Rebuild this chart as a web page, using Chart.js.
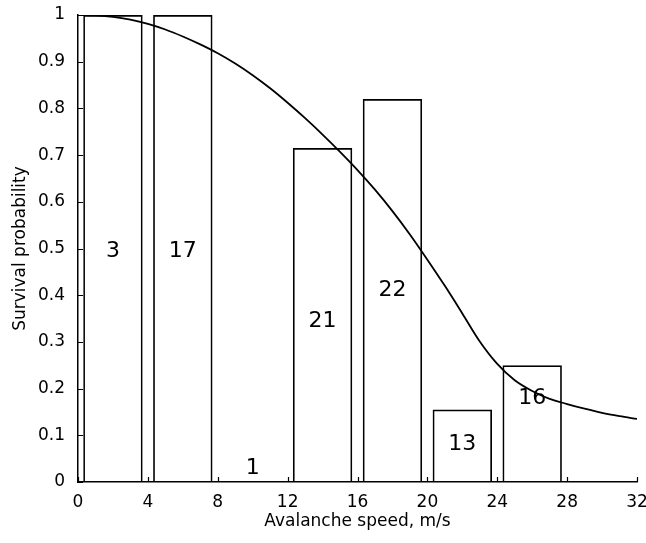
<!DOCTYPE html>
<html>
<head>
<meta charset="utf-8">
<title>Survival probability vs avalanche speed</title>
<script src="https://cdn.jsdelivr.net/npm/chart.js@4.4.1/dist/chart.umd.min.js"></script>
<style>
    html, body { margin: 0; padding: 0; background: #fff; }
    #wrap { position: relative; width: 646px; height: 543px; }
</style>
</head>
<body>
<div id="wrap"><canvas id="survivalChart"></canvas></div>
<script>
// Binned survival fractions (4 m/s bins) and number of cases in each bin
const binCenters = [2, 6, 10, 14, 18, 22, 26];
const binSurvival = [1, 1, 0, 0.715, 0.82, 0.155, 0.25];
const binCounts = [3, 17, 1, 21, 22, 13, 16];

// Fitted survival curve, sampled every 1 m/s
const curveSpeed = [0, 1, 2, 3, 4, 5, 6, 7, 8, 9, 10, 11, 12, 13, 14, 15, 16,
                    17, 18, 19, 20, 21, 22, 23, 24, 25, 26, 27, 28, 29, 30, 31, 32];
const curveSurvival = [1.0, 0.999, 0.996, 0.99, 0.981, 0.969, 0.954, 0.937, 0.918, 0.896, 0.871,
                       0.843, 0.812, 0.779, 0.744, 0.707, 0.668, 0.626, 0.58, 0.53, 0.476, 0.42,
                       0.361, 0.301, 0.253, 0.218, 0.195, 0.178, 0.167, 0.157, 0.148, 0.141, 0.135];

// Axis ticks
const speedTicks = [0, 4, 8, 12, 16, 20, 24, 28, 32];
const probTicks = [0, 0.1, 0.2, 0.3, 0.4, 0.5, 0.6, 0.7, 0.8, 0.9, 1];

// Height (in probability units) where each case count is written
const countLabelY = [0.495, 0.495, 0.03, 0.344, 0.41, 0.08, 0.18];

const FONT = '"DejaVu Sans", "Liberation Sans", Arial, sans-serif';

// Case counts written inside the bins
const binCountLabels = {
    id: 'binCountLabels',
    afterDatasetsDraw(chart) {
        const { ctx, scales: { x, y } } = chart;
        ctx.save();
        ctx.font = '22px ' + FONT;
        ctx.fillStyle = '#000';
        ctx.textAlign = 'center';
        ctx.textBaseline = 'middle';
        binCounts.forEach((n, i) => {
            ctx.fillText(String(n), x.getPixelForValue(binCenters[i]), y.getPixelForValue(countLabelY[i]));
        });
        ctx.restore();
    }
};

// Tick marks pointing into the plot area
const inwardTicks = {
    id: 'inwardTicks',
    afterDraw(chart) {
        const { ctx, chartArea, scales: { x, y } } = chart;
        ctx.save();
        ctx.strokeStyle = '#000';
        ctx.lineWidth = 1.2;
        ctx.beginPath();
        x.ticks.forEach(t => {
            const px = Math.round(x.getPixelForValue(t.value)) + 0.5;
            ctx.moveTo(px, chartArea.bottom);
            ctx.lineTo(px, chartArea.bottom - 5);
        });
        y.ticks.forEach(t => {
            const py = Math.round(y.getPixelForValue(t.value)) + 0.5;
            ctx.moveTo(chartArea.left, py);
            ctx.lineTo(chartArea.left + 5, py);
        });
        ctx.stroke();
        ctx.restore();
    }
};

const ctx = document.getElementById('survivalChart').getContext('2d');

new Chart(ctx, {
    type: 'bar',
    data: {
        datasets: [
            {
                type: 'bar',
                label: 'Observed survival',
                data: binCenters.map((c, i) => ({ x: c, y: binSurvival[i] })),
                backgroundColor: 'rgba(0, 0, 0, 0)',
                borderColor: '#000',
                borderWidth: 1.7,
                borderSkipped: 'start',
                categoryPercentage: 1.0,
                barPercentage: 0.85,
                order: 2
            },
            {
                type: 'line',
                label: 'Fitted curve',
                data: curveSpeed.map((s, i) => ({ x: s, y: curveSurvival[i] })),
                borderColor: '#000',
                borderWidth: 1.8,
                fill: false,
                pointRadius: 0,
                cubicInterpolationMode: 'monotone',
                order: 1
            }
        ]
    },
    options: {
        responsive: true,
        maintainAspectRatio: false,
        animation: false,
        layout: {
            padding: { top: 15, right: 9, left: 0, bottom: 0 }
        },
        plugins: {
            legend: { display: false },
            tooltip: { enabled: false }
        },
        scales: {
            x: {
                type: 'linear',
                min: 0,
                max: 32,
                offset: false,
                afterBuildTicks: scale => {
                    scale.ticks = speedTicks.map(v => ({ value: v }));
                },
                afterFit: scale => {
                    scale.height = 61;
                    scale.paddingLeft = 0;
                    scale.paddingRight = 0;
                },
                grid: { display: true, drawOnChartArea: false, drawTicks: false },
                border: { display: true, color: '#000', width: 1.5 },
                ticks: {
                    color: '#000',
                    padding: 10,
                    maxRotation: 0,
                    font: { family: FONT, size: 17 }
                },
                title: {
                    display: true,
                    text: 'Avalanche speed, m/s',
                    color: '#000',
                    font: { family: FONT, size: 17 },
                    padding: { top: 0, bottom: 11 }
                }
            },
            y: {
                type: 'linear',
                min: 0,
                max: 1,
                afterBuildTicks: scale => {
                    scale.ticks = probTicks.map(v => ({ value: v }));
                },
                afterFit: scale => {
                    scale.width = 78;
                    scale.paddingTop = 0;
                    scale.paddingBottom = 0;
                },
                grid: { display: true, drawOnChartArea: false, drawTicks: false },
                border: { display: true, color: '#000', width: 1.5 },
                ticks: {
                    color: '#000',
                    padding: 13,
                    font: { family: FONT, size: 17 },
                    callback: value => String(Number(value.toFixed(1)))
                },
                title: {
                    display: true,
                    text: 'Survival probability',
                    color: '#000',
                    font: { family: FONT, size: 17 },
                    padding: { top: 10, bottom: 0 }
                }
            }
        }
    },
    plugins: [binCountLabels, inwardTicks]
});
</script>
</body>
</html>
